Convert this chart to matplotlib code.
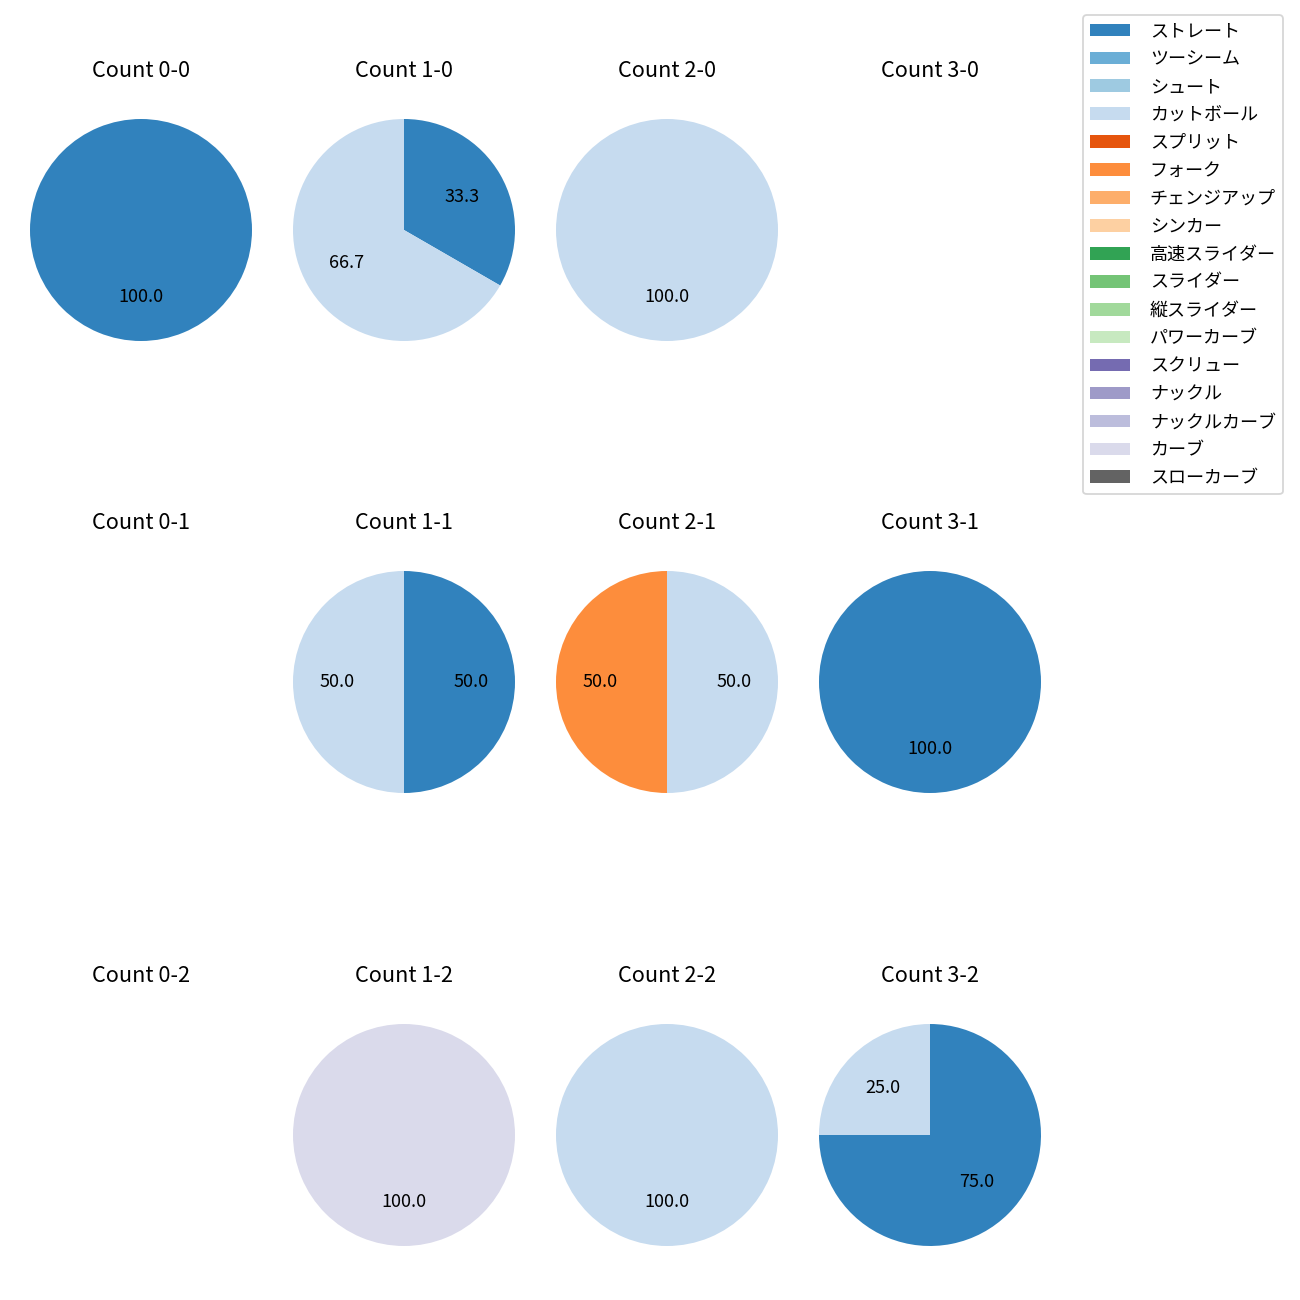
import matplotlib
matplotlib.use("Agg")
import matplotlib.pyplot as plt
from matplotlib.patches import Patch

plt.rcParams['font.family'] = ['Noto Sans CJK JP', 'DejaVu Sans']

pitch_types = ['ストレート', 'ツーシーム', 'シュート', 'カットボール', 'スプリット', 'フォーク',
               'チェンジアップ', 'シンカー', '高速スライダー', 'スライダー', '縦スライダー',
               'パワーカーブ', 'スクリュー', 'ナックル', 'ナックルカーブ', 'カーブ', 'スローカーブ']
colors = ['#3182bd', '#6baed6', '#9ecae1', '#c6dbef', '#e6550d', '#fd8d3c', '#fdae6b',
          '#fdd0a2', '#31a354', '#74c476', '#a1d99b', '#c7e9c0', '#756bb1', '#9e9ac8',
          '#bcbddc', '#dadaeb', '#636363']

balls = [0, 1, 2, 3]
strikes = [0, 1, 2]

# counts per pitch type (index into pitch_types) for each ball-strike count
count_0_0 = {0: 1}
count_1_0 = {0: 1, 3: 2}
count_2_0 = {3: 1}
count_3_0 = {}
count_0_1 = {}
count_1_1 = {0: 1, 3: 1}
count_2_1 = {3: 1, 5: 1}
count_3_1 = {0: 1}
count_0_2 = {}
count_1_2 = {15: 1}
count_2_2 = {3: 1}
count_3_2 = {0: 3, 3: 1}

data = {
    (0, 0): count_0_0, (1, 0): count_1_0, (2, 0): count_2_0, (3, 0): count_3_0,
    (0, 1): count_0_1, (1, 1): count_1_1, (2, 1): count_2_1, (3, 1): count_3_1,
    (0, 2): count_0_2, (1, 2): count_1_2, (2, 2): count_2_2, (3, 2): count_3_2,
}

W = H = 1300
fig = plt.figure(figsize=(10, 10), dpi=130)

col_cx = [141, 404, 667, 930]
row_cy = [230, 682, 1135]
radius_px = 111
side = 2.5 * radius_px

for s in strikes:
    for b in balls:
        cx, cy = col_cx[b], row_cy[s]
        ax = fig.add_axes([(cx - side / 2) / W, 1 - (cy + side / 2) / H, side / W, side / H])
        d = data[(b, s)]
        if d:
            idx = sorted(d.keys())
            vals = [d[i] for i in idx]
            ax.pie(vals, colors=[colors[i] for i in idx], autopct='%.1f',
                   startangle=90, counterclock=False)
        ax.set_xlim(-1.25, 1.25)
        ax.set_ylim(-1.25, 1.25)
        ax.set_aspect('equal')
        ax.axis('off')
        ax.set_title(f'Count {b}-{s}', pad=8)

handles = [Patch(facecolor=c, label=l) for c, l in zip(colors, pitch_types)]
fig.legend(handles=handles, loc='upper right', bbox_to_anchor=(1283 / W, 1 - 15 / H),
           bbox_transform=fig.transFigure, borderaxespad=0, fontsize=10,
           handlelength=2.2, handletextpad=1.1, labelspacing=0.55)

fig.savefig('out.png', dpi=130)
